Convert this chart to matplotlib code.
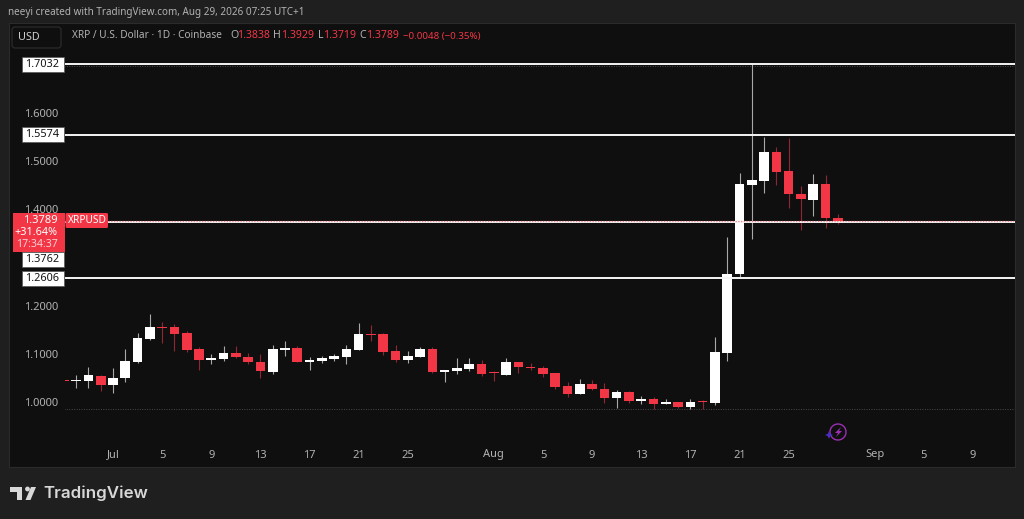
import numpy as np
import matplotlib
matplotlib.use('Agg')
import matplotlib.pyplot as plt
from matplotlib.patches import Rectangle, FancyBboxPatch, Circle, Polygon, Arc

# days counted from Jul 1
days = list(range(-4, 60))
opens = [1.0497, 1.0480, 1.0482, 1.0586, 1.0387, 1.0532, 1.0875, 1.1345, 1.1587, 1.1587, 1.1463, 1.1132, 1.0917, 1.0931, 1.1061, 1.0979,
         1.0869, 1.0668, 1.1123, 1.1148, 1.0875, 1.0890, 1.0931, 1.0979, 1.1123, 1.1454, 1.1442, 1.1090, 1.0917, 1.0979, 1.1144, 1.0662,
         1.0683, 1.0730, 1.0834, 1.0648, 1.0606, 1.0869, 1.0766, 1.0751, 1.0635, 1.0366, 1.0213, 1.0408, 1.0304, 1.0130, 1.0248, 1.0056,
         1.0103, 1.0000, 1.0035, 0.9938, 1.0056, 1.0021, 1.1061, 1.2683, 1.4537, 1.4620, 1.5214, 1.4821, 1.4351, 1.4227, 1.4552, 1.3838]
highs = [1.0497, 1.0600, 1.0766, 1.0600, 1.0739, 1.1132, 1.1469, 1.1856, 1.1697, 1.1655, 1.1517, 1.1173, 1.1035, 1.1194, 1.1200, 1.1049,
         1.1035, 1.1214, 1.1310, 1.1200, 1.0966, 1.0987, 1.1035, 1.1214, 1.1670, 1.1634, 1.1463, 1.1227, 1.1090, 1.1173, 1.1173, 1.0697,
         1.0946, 1.0952, 1.0904, 1.0677, 1.0952, 1.0869, 1.0842, 1.0786, 1.0635, 1.0455, 1.0517, 1.0490, 1.0428, 1.0290, 1.0269, 1.0166,
         1.0151, 1.0097, 1.0035, 1.0103, 1.0083, 1.1386, 1.3455, 1.4779, 1.7032, 1.5518, 1.5311, 1.5504, 1.4510, 1.4765, 1.4738, 1.3929]
lows = [1.0476, 1.0337, 1.0337, 1.0275, 1.0221, 1.0461, 1.0842, 1.1324, 1.1262, 1.1103, 1.1082, 1.0710, 1.0834, 1.0896, 1.0958, 1.0834,
        1.0544, 1.0614, 1.0999, 1.0859, 1.0703, 1.0855, 1.0890, 1.0834, 1.1117, 1.1303, 1.1020, 1.0863, 1.0855, 1.0966, 1.0635, 1.0461,
        1.0627, 1.0689, 1.0579, 1.0482, 1.0600, 1.0641, 1.0703, 1.0559, 1.0310, 1.0139, 1.0207, 1.0290, 1.0021, 0.9923, 1.0021, 1.0000,
        0.9890, 1.0000, 0.9911, 0.9897, 0.9890, 0.9973, 1.0883, 1.2628, 1.3414, 1.4366, 1.4537, 1.4061, 1.3594, 1.3884, 1.3648, 1.3719]
closes = [1.0476, 1.0490, 1.0594, 1.0393, 1.0538, 1.0883, 1.1359, 1.1587, 1.1572, 1.1454, 1.1123, 1.0917, 1.0946, 1.1061, 1.0972, 1.0869,
          1.0677, 1.1132, 1.1144, 1.0873, 1.0910, 1.0946, 1.0993, 1.1132, 1.1454, 1.1428, 1.1076, 1.0917, 1.0993, 1.1144, 1.0662, 1.0697,
          1.0739, 1.0834, 1.0614, 1.0635, 1.0869, 1.0759, 1.0745, 1.0627, 1.0352, 1.0213, 1.0408, 1.0304, 1.0124, 1.0248, 1.0056, 1.0103,
          1.0000, 1.0035, 0.9938, 1.0048, 1.0035, 1.1076, 1.2696, 1.4552, 1.4635, 1.5214, 1.4806, 1.4351, 1.4235, 1.4552, 1.3842, 1.3789]

level_prices = [1.7032, 1.5574, 1.3762, 1.2606]
level_labels = ['1.7032', '1.5574', '1.3762', '1.2606']
last_close = 1.3789
dotted_prices = [1.6995, 0.9890]

price_ticks = [1.0, 1.1, 1.2, 1.4, 1.5, 1.6]
price_tick_labels = ['1.0000', '1.1000', '1.2000', '1.4000', '1.5000', '1.6000']
date_ticks = [0, 4, 8, 12, 16, 20, 24, 31, 35, 39, 43, 47, 51, 55, 62, 66, 70]
date_labels = ['Jul', '5', '9', '13', '17', '21', '25', 'Aug', '5', '9', '13', '17', '21', '25', 'Sep', '5', '9']

bg_outer = '#1f1f1f'
bg_chart = '#0f0f0f'
red = '#f23645'
white = '#ffffff'
grey_text = '#b2b2b2'
font = 'Noto Sans'

plt.rcParams['font.family'] = font

fig = plt.figure(figsize=(10.24, 5.19), dpi=100, facecolor=bg_outer)
ax = fig.add_axes([9/1024, (519-467)/519, (1015-9)/1024, (467-23)/519], facecolor=bg_chart)
ax.set_xlim(-8.465, 73.42)
ax.set_ylim(0.8696, 1.7883)
ax.set_xticks([])
ax.set_yticks([])
for s in ax.spines.values():
    s.set_color('#2b2b2b')
    s.set_linewidth(0.8)

# candles
for d, o, h, l, c in zip(days, opens, highs, lows, closes):
    up = c >= o
    ax.vlines(d, l, h, color='#a8a8a8' if up else '#8f2735', lw=0.8, zorder=2)
    ax.bar(d, max(abs(c-o), 0.0025), bottom=min(o, c), width=0.78,
           color=white if up else red, edgecolor='none', zorder=3)

# levels
ax.hlines(level_prices, -4, 73.42, color='#f5f5f5', lw=1.4, zorder=4)
ax.hlines(dotted_prices, -4, 73.42, color='#4a4a4a', lw=0.7, linestyles=(0, (1, 1.5)), zorder=1)
ax.hlines(last_close, -4, 73.42, color='#f7808b', lw=0.9, linestyles=(0, (1, 1.2)), zorder=5)

# chrome drawn in pixel coordinates
ov = fig.add_axes([0, 0, 1, 1], facecolor='none')
ov.set_xlim(0, 1024)
ov.set_ylim(519, 0)
ov.axis('off')


def price_y(p):
    return ax.transData.transform((0, p))[1] * -1 + 519


def day_x(d):
    return ax.transData.transform((d, 0))[0]


# price scale strip hides whatever runs left of the plot area
ov.add_patch(Rectangle((10, 24), 54.5, 442, fc=bg_chart, ec='none', zorder=1))

for p, t in zip(price_ticks, price_tick_labels):
    ov.text(58, price_y(p), t, color=grey_text, fontsize=8, ha='right', va='center', zorder=2)
for d, t in zip(date_ticks, date_labels):
    ov.text(day_x(d), 455, t, color=grey_text, fontsize=8, ha='center', va='center')

for p, t in zip(level_prices, level_labels):
    yy = price_y(p)
    if t == '1.3762':
        yy = 259
    ov.add_patch(Rectangle((22, yy-7.5), 42, 15, fc=white, ec='#555555', lw=0.5, zorder=3))
    ov.text(42.5, yy, t, color='#131313', fontsize=7.8, ha='center', va='center', zorder=4)

ov.add_patch(Rectangle((13, 213), 52, 39, fc=red, ec='none', zorder=5))
ov.add_patch(FancyBboxPatch((65.5, 213), 42.5, 15, boxstyle='round,pad=0,rounding_size=1.5', fc=red, ec='none', zorder=5))
ov.text(57.5, 220.5, '1.3789', color=white, fontsize=8, ha='right', va='center', zorder=6)
ov.text(57.5, 232.5, '+31.64%', color=white, fontsize=7.8, ha='right', va='center', zorder=6)
ov.text(57.5, 244.5, '17:34:37', color='#fbd0d4', fontsize=7.6, ha='right', va='center', zorder=6)
ov.text(87, 220.5, 'XRPUSD', color=white, fontsize=7.3, ha='center', va='center', zorder=6)

# header
ov.text(8, 13, 'neeyi created with TradingView.com, Aug 29, 2026 07:25 UTC+1', color=grey_text,
        fontsize=7.15, ha='left', va='center')
ov.add_patch(FancyBboxPatch((12, 27), 49, 21, boxstyle='round,pad=0,rounding_size=3',
                            fc=bg_chart, ec='#2e2e2e', lw=0.8, zorder=2))
ov.text(29, 38, 'USD', color='#d0d0d0', fontsize=7.8, ha='center', va='center', zorder=3)

legend_parts = [(72, 'XRP / U.S. Dollar · 1D · Coinbase', grey_text, 7.25), (230, 'O', grey_text, 7.6), (237.5, '1.3838', red, 7.6),
                (273, 'H', grey_text, 7.6), (281, '1.3929', red, 7.6), (318, 'L', grey_text, 7.6), (323, '1.3719', red, 7.6),
                (359, 'C', grey_text, 7.6), (366, '1.3789', red, 7.6), (403, '−0.0048 (−0.35%)', red, 7.0)]
for lx, t, col, fs in legend_parts:
    ov.text(lx, 36, t, color=col, fontsize=fs, ha='left', va='center', zorder=3)

# lightning icon
ov.add_patch(Arc((838, 432), 16, 16, theta1=0, theta2=360, color='#9c2fb5', lw=1.0))
ov.add_patch(Polygon([(841, 427), (835, 433), (838, 433), (836, 437), (842, 431), (839, 431)], fc='#9c2fb5', ec='none'))
ov.add_patch(Polygon([(829, 431), (830.2, 433.8), (833, 435), (830.2, 436.2), (829, 439), (827.8, 436.2), (825, 435), (827.8, 433.8)],
                     fc='#4a2fc0', ec='none'))

# logo
ov.add_patch(Polygon([(10, 487), (22, 487), (22, 500), (17, 500), (17, 492), (10, 492)], fc='#d8d8d8', ec='none'))
ov.add_patch(Circle((27.5, 489), 2.4, fc='#d8d8d8', ec='none'))
ov.add_patch(Polygon([(31, 487), (36, 487), (30.5, 500), (25.5, 500)], fc='#d8d8d8', ec='none'))
ov.text(43, 493.5, 'TradingView', color='#d8d8d8', fontsize=12.2, fontweight='semibold', family='Inter', ha='left', va='center')

fig.savefig('out.png', dpi=100, facecolor=bg_outer)
